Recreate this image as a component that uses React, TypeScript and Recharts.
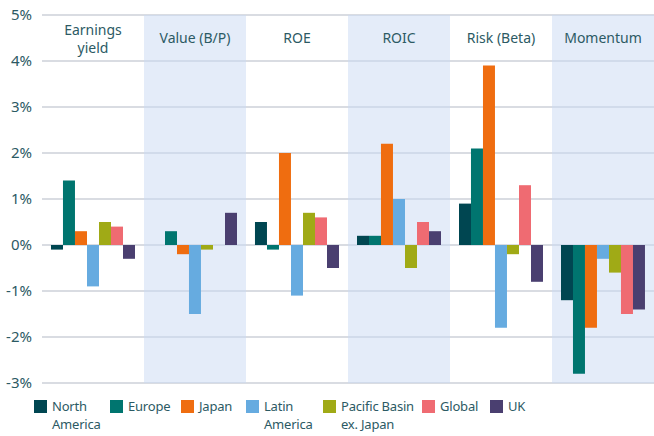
import React from "react";
import {
  BarChart,
  Bar,
  XAxis,
  YAxis,
  CartesianGrid,
  ReferenceArea,
  Legend,
} from "recharts";

const factors = ["Earnings yield", "Value (B/P)", "ROE", "ROIC", "Risk (Beta)", "Momentum"];
const northAmerica = [-0.1, 0.0, 0.5, 0.2, 0.9, -1.2];
const europe = [1.4, 0.3, -0.1, 0.2, 2.1, -2.8];
const japan = [0.3, -0.2, 2.0, 2.2, 3.9, -1.8];
const latinAmerica = [-0.9, -1.5, -1.1, 1.0, -1.8, -0.3];
const pacificBasin = [0.5, -0.1, 0.7, -0.5, -0.2, -0.6];
const global = [0.4, 0.0, 0.6, 0.5, 1.3, -1.5];
const uk = [-0.3, 0.7, -0.5, 0.3, -0.8, -1.4];
const yTicks = [-3, -2, -1, 0, 1, 2, 3, 4, 5];
const shadedFactors = ["Value (B/P)", "ROIC", "Momentum"];

const series = [
  { key: "na", name: "North America", label: ["North", "America"], color: "#004651", values: northAmerica },
  { key: "eu", name: "Europe", label: ["Europe"], color: "#00756f", values: europe },
  { key: "jp", name: "Japan", label: ["Japan"], color: "#ef6d10", values: japan },
  { key: "la", name: "Latin America", label: ["Latin", "America"], color: "#66abe0", values: latinAmerica },
  { key: "pb", name: "Pacific Basin ex. Japan", label: ["Pacific Basin", "ex. Japan"], color: "#a0aa16", values: pacificBasin },
  { key: "gl", name: "Global", label: ["Global"], color: "#ef6b72", values: global },
  { key: "uk", name: "UK", label: ["UK"], color: "#4a3f70", values: uk },
];

const data = factors.map((f, i) => {
  const row: Record<string, string | number> = { factor: f };
  series.forEach((s) => (row[s.key] = s.values[i]));
  return row;
});

const TEXT = "#2c5a64";
const FONT = "'Noto Sans', sans-serif";
const PLOT_TOP = 15;

function renderFactorTick(props: any) {
  const { x, payload } = props;
  const words: string[] = payload.value === "Earnings yield" ? ["Earnings", "yield"] : [payload.value];
  const startY = words.length > 1 ? PLOT_TOP + 20 : PLOT_TOP + 28;
  return (
    <text key={payload.value} x={x} y={startY} textAnchor="middle" fill={TEXT} fontSize={14} fontFamily={FONT}>
      {words.map((w, i) => (
        <tspan key={w} x={x} dy={i === 0 ? 0 : 18}>
          {w}
        </tspan>
      ))}
    </text>
  );
}

const legendLeft = [34, 110, 181, 246, 323, 422, 490];

function LegendContent() {
  return (
    <div style={{ position: "relative", height: 40, fontFamily: FONT, fontSize: 13, color: TEXT }}>
      {series.map((s, i) => (
        <div key={s.key} style={{ position: "absolute", left: legendLeft[i], top: 1, display: "flex" }}>
          <div style={{ width: 13, height: 13, background: s.color, marginTop: 3, marginRight: 5 }} />
          <div style={{ lineHeight: "18px", whiteSpace: "nowrap", letterSpacing: -0.2 }}>
            {s.label.map((l) => (
              <div key={l}>{l}</div>
            ))}
          </div>
        </div>
      ))}
    </div>
  );
}

export default function App() {
  return (
    <div style={{ position: "absolute", left: 0, top: 0, width: 654, height: 436, overflow: "hidden", background: "#fff" }}>
      <BarChart
        width={654}
        height={436}
        data={data}
        margin={{ top: PLOT_TOP - 1, right: 0, left: 0, bottom: 13 }}
        barCategoryGap="8.8%"
        barGap={0}
      >
        {shadedFactors.map((f) => (
          <ReferenceArea
            key={f}
            x1={f}
            x2={f}
            y1={-3}
            y2={5}
            fill="#c9daf3"
            fillOpacity={0.5}
            stroke="none"
          />
        ))}
        <CartesianGrid vertical={false} stroke="#ccd1d8" strokeWidth={1.5} />
        <XAxis
          dataKey="factor"
          orientation="top"
          height={1}
          axisLine={false}
          tickLine={false}
          interval={0}
          tick={renderFactorTick}
        />
        <YAxis
          width={42}
          domain={[-3, 5]}
          ticks={yTicks}
          axisLine={false}
          tickLine={false}
          tickMargin={4}
          tickFormatter={(v: number) => `${v}%`}
          tick={{ fill: TEXT, fontSize: 15, fontFamily: FONT }}
        />
        <Legend
          verticalAlign="bottom"
          height={40}
          content={<LegendContent />}
          wrapperStyle={{ left: 0, bottom: 0, width: 654, height: 40 }}
        />
        {series.map((s) => (
          <Bar key={s.key} dataKey={s.key} name={s.name} fill={s.color} isAnimationActive={false} />
        ))}
      </BarChart>
    </div>
  );
}
